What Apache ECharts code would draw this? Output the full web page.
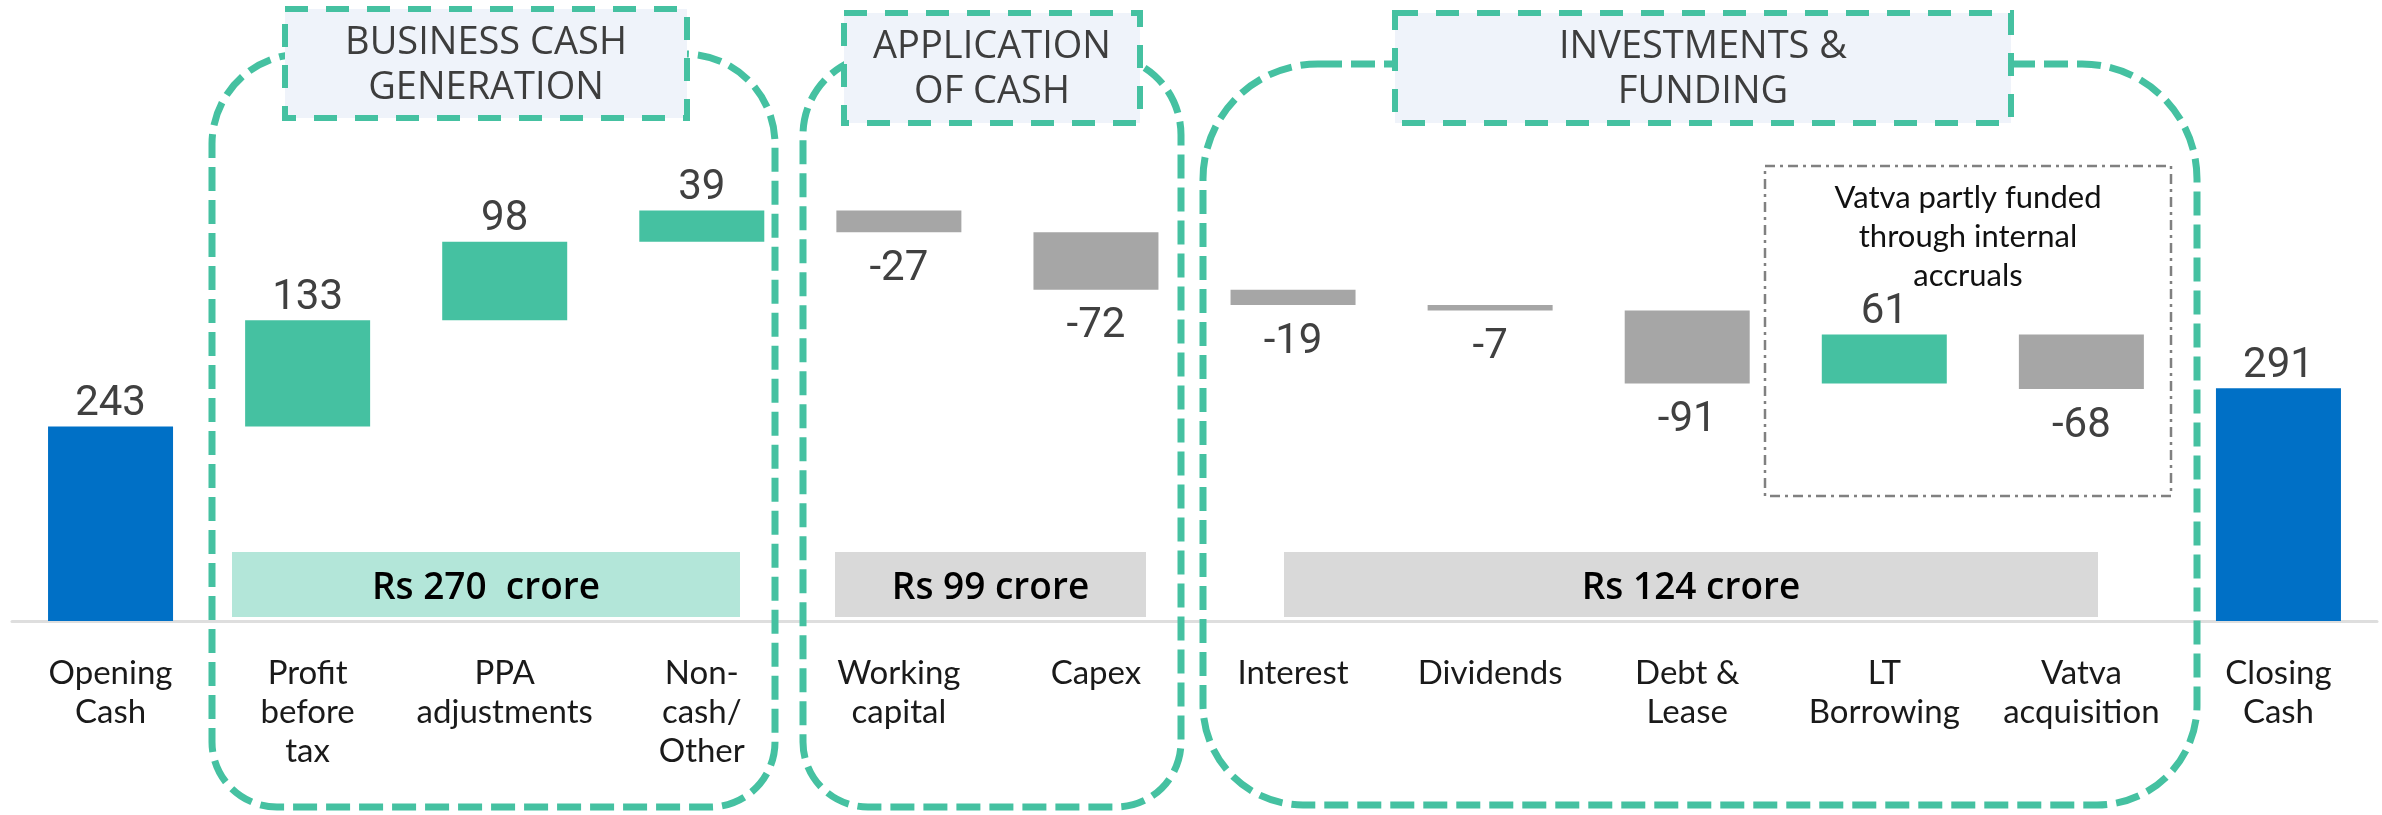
<!DOCTYPE html>
<html>
<head>
<meta charset="utf-8">
<script src="https://cdn.jsdelivr.net/npm/echarts@6/dist/echarts.min.js"></script>
<style>
  html, body { margin: 0; padding: 0; background: #fff; }
  #chart { width: 2382px; height: 815px; }
</style>
</head>
<body>
<div id="chart"></div>
<script>
// 数据
var categories = ['Opening\nCash', 'Profit\nbefore\ntax', 'PPA\nadjustments', 'Non-\ncash/\nOther',
  'Working\ncapital', 'Capex', 'Interest', 'Dividends', 'Debt &\nLease', 'LT\nBorrowing',
  'Vatva\nacquisition', 'Closing\nCash'];
var values = [243, 133, 98, 39, -27, -72, -19, -7, -91, 61, -68, 291];
var isTotal = [true, false, false, false, false, false, false, false, false, false, false, true];
var groupTitles = ['BUSINESS CASH\nGENERATION', 'APPLICATION\nOF CASH', 'INVESTMENTS &\nFUNDING'];
var groupTotals = ['Rs 270  crore', 'Rs 99 crore', 'Rs 124 crore'];
var noteText = 'Vatva partly funded\nthrough internal\naccruals';

var TEAL = '#45C1A1';
var GREY = '#A6A6A6';
var BLUE = '#0070C6';

// 瀑布图的底座和可见部分
var baseData = [];
var barData = [];
var running = 0;
for (var i = 0; i < values.length; i++) {
  var v = values[i];
  var color, base;
  if (isTotal[i]) {
    base = 0;
    running = v;
    color = BLUE;
  } else if (v >= 0) {
    base = running;
    running += v;
    color = TEAL;
  } else {
    running += v;
    base = running;
    color = GREY;
  }
  baseData.push(base);
  barData.push({
    value: Math.abs(v),
    itemStyle: { color: color },
    label: v >= 0 ? { position: 'top', distance: 1 } : { position: 'bottom', distance: 16 }
  });
}

function dashedBox(x, y, w, h, r) {
  return {
    type: 'rect', z: 1,
    shape: { x: x, y: y, width: w, height: h, r: r },
    style: { fill: null, stroke: TEAL, lineWidth: 7, lineDash: [24, 9] }
  };
}
function titleBox(x, y, w, h, text) {
  return [{
    type: 'rect', z: 5,
    shape: { x: x, y: y, width: w, height: h },
    style: { fill: '#EFF3FA', stroke: TEAL, lineWidth: 6, lineDash: [23, 18] }
  }, {
    type: 'text', z: 6,
    x: x + w / 2, y: y + h / 2 + 2,
    style: {
      text: text, align: 'center', verticalAlign: 'middle',
      fill: '#3d3d3d', font: '500 38px "Open Sans"', lineHeight: 45
    }
  }];
}
function band(x1, x2, color, text) {
  return [{
    type: 'rect', z: 3,
    shape: { x: x1, y: 552, width: x2 - x1, height: 65 },
    style: { fill: color }
  }, {
    type: 'text', z: 4,
    x: (x1 + x2) / 2, y: 588,
    style: {
      text: text, align: 'center', verticalAlign: 'middle',
      fill: '#000', font: '600 37px "Open Sans"'
    }
  }];
}

var graphics = [
  dashedBox(212, 54, 563, 753, [90, 90, 65, 65]),
  dashedBox(803, 55, 378, 752, [80, 80, 65, 65]),
  dashedBox(1203, 64, 994, 741, [115, 115, 100, 100])
];
graphics = graphics
  .concat(titleBox(285, 9, 402, 109, groupTitles[0]))
  .concat(titleBox(844, 13, 296, 110, groupTitles[1]))
  .concat(titleBox(1395, 13, 616, 110, groupTitles[2]))
  .concat(band(232, 740, '#B3E6D9', groupTotals[0]))
  .concat(band(835, 1146, '#D9D9D9', groupTotals[1]))
  .concat(band(1284, 2098, '#D9D9D9', groupTotals[2]));
graphics.push({
  type: 'rect', z: 2,
  shape: { x: 1765, y: 166, width: 406, height: 330 },
  style: { fill: null, stroke: '#808080', lineWidth: 2.5, lineDash: [10, 5, 3, 5] }
});
graphics.push({
  type: 'text', z: 4,
  x: 1968, y: 237,
  style: {
    text: noteText, align: 'center', verticalAlign: 'middle',
    fill: '#111', font: '31px Lato', lineHeight: 39
  }
});

var chart = echarts.init(document.getElementById('chart'));
var option = {
  animation: false,
  backgroundColor: '#fff',
  grid: { left: 12, right: 5, top: 61, bottom: 194 },
  xAxis: {
    type: 'category',
    data: categories,
    axisLine: { lineStyle: { color: '#DEDEDE', width: 3 } },
    axisTick: { show: false },
    axisLabel: {
      interval: 0, margin: 33,
      color: '#1a1a1a', fontFamily: 'Lato', fontSize: 33, lineHeight: 39
    }
  },
  yAxis: {
    type: 'value', min: 0, max: 700, show: false,
    splitLine: { show: false }
  },
  series: [
    {
      type: 'bar', stack: 'w', data: baseData, barWidth: 125,
      itemStyle: { color: 'transparent' }, silent: true
    },
    {
      type: 'bar', stack: 'w', data: barData, barWidth: 125,
      label: {
        show: true,
        color: '#404040', fontFamily: 'Roboto', fontSize: 42,
        formatter: function (p) { return values[p.dataIndex]; }
      }
    }
  ],
  graphic: { elements: graphics }
};
chart.setOption(option);
</script>
</body>
</html>
